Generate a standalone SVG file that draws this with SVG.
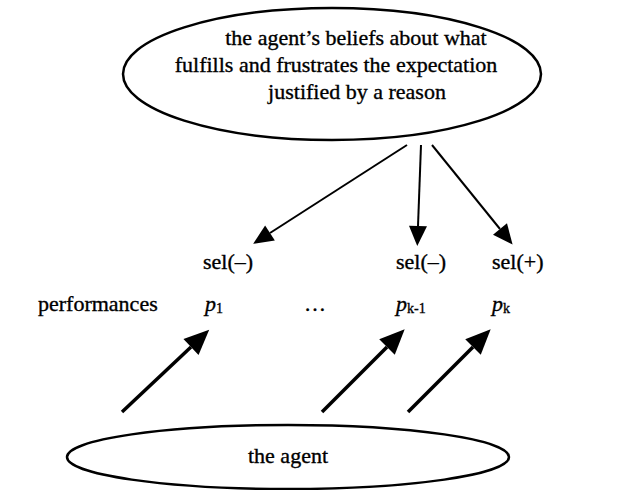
<svg xmlns="http://www.w3.org/2000/svg" width="638" height="490" viewBox="0 0 638 490">
<style>
text{font-family:"Liberation Serif","Times New Roman",serif;font-size:22px;fill:#000;stroke:#000;stroke-width:0.35}
.it{font-style:italic}
.sub{font-size:14px}
.ell{fill:none;stroke:#000;stroke-width:2.5}
.thin{stroke:#000;stroke-width:2;fill:none}
.thick{stroke:#000;stroke-width:3.5;fill:none}
</style>
<defs>
<marker id="hs" markerUnits="userSpaceOnUse" markerWidth="30" markerHeight="30" refX="0" refY="0" viewBox="-1 -15 30 30" orient="auto" overflow="visible">
<path d="M0,-9 L20,0 L0,9 z" fill="#000"/>
</marker>
<marker id="hl" markerUnits="userSpaceOnUse" markerWidth="30" markerHeight="30" refX="0" refY="0" viewBox="-1 -15 30 30" orient="auto" overflow="visible">
<path d="M0,-11 L25,0 L0,11 z" fill="#000"/>
</marker>
</defs>
<g id="beliefs">
<ellipse class="ell" cx="332" cy="74" rx="209" ry="66"/>
<text x="356" y="45" text-anchor="middle">the agent’s beliefs about what</text>
<text x="336" y="72" text-anchor="middle">fulfills and frustrates the expectation</text>
<text x="357" y="99" text-anchor="middle">justified by a reason</text>
</g>
<g id="sel1"><text x="203" y="269">sel(–)</text></g>
<g id="sel2"><text x="396" y="269">sel(–)</text></g>
<g id="sel3"><text x="492" y="269">sel(+)</text></g>
<g id="performances"><text x="38" y="311">performances</text></g>
<g id="p1"><text x="205" y="311"><tspan class="it">p</tspan><tspan class="sub" dy="2">1</tspan></text></g>
<g id="dots"><text x="304" y="311">…</text></g>
<g id="pk1"><text x="396" y="311"><tspan class="it">p</tspan><tspan class="sub" dy="2">k-1</tspan></text></g>
<g id="pk"><text x="492" y="311"><tspan class="it">p</tspan><tspan class="sub" dy="2">k</tspan></text></g>
<g id="agent">
<ellipse class="ell" cx="288" cy="457" rx="221" ry="32"/>
<text x="288" y="463" text-anchor="middle">the agent</text>
</g>
<g id="connectors">
<line class="thin" x1="407" y1="145" x2="270" y2="233" marker-end="url(#hs)"/>
<line class="thin" x1="421" y1="145" x2="418" y2="226" marker-end="url(#hs)"/>
<line class="thin" x1="432" y1="145" x2="500" y2="229" marker-end="url(#hs)"/>
<line class="thick" x1="122" y1="412" x2="191" y2="347" marker-end="url(#hl)"/>
<line class="thick" x1="322" y1="412" x2="387" y2="347" marker-end="url(#hl)"/>
<line class="thick" x1="408" y1="412" x2="473" y2="347" marker-end="url(#hl)"/>
</g>
</svg>
